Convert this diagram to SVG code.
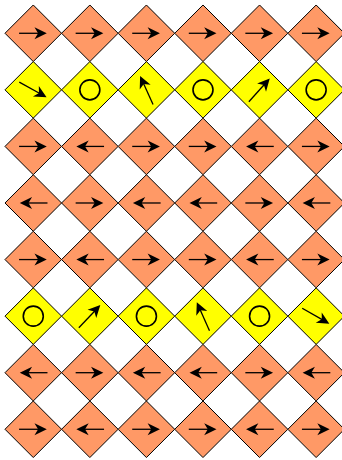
<svg xmlns="http://www.w3.org/2000/svg" width="342" height="460" viewBox="0 0 342 460">
<style>
.o{fill:#FF9966;stroke:#000;stroke-width:1}
.y{fill:#FFFF00;stroke:#000;stroke-width:1}
.c{fill:none;stroke:#000;stroke-width:1.6}
.ln{stroke:#000;stroke-width:1.3;fill:none}
</style>
<defs>
<polygon id="dia" points="0,-28.28 28.28,0 0,28.28 -28.28,0"/>
<g id="ah"><line class="ln" x1="-14.2" y1="0" x2="6" y2="0"/><path d="M13.5,0 L1.2,-6 L4.8,0 L1.2,6 Z" fill="#000"/></g>
<g id="ad"><line class="ln" x1="-16" y1="0" x2="7.5" y2="0"/><path d="M15.2,0 L3,-6 L6.5,0 L3,6 Z" fill="#000"/></g>
<circle id="ci" class="c" r="10"/>
</defs>
<g id="connectors"/>
<!-- Row 1 -->
<g id="n1-1" transform="translate(33.28,33.28)"><use href="#dia" class="o"/><use href="#ah"/></g>
<g id="n1-2" transform="translate(89.85,33.28)"><use href="#dia" class="o"/><use href="#ah"/></g>
<g id="n1-3" transform="translate(146.42,33.28)"><use href="#dia" class="o"/><use href="#ah"/></g>
<g id="n1-4" transform="translate(202.99,33.28)"><use href="#dia" class="o"/><use href="#ah"/></g>
<g id="n1-5" transform="translate(259.56,33.28)"><use href="#dia" class="o"/><use href="#ah"/></g>
<g id="n1-6" transform="translate(316.13,33.28)"><use href="#dia" class="o"/><use href="#ah"/></g>
<!-- Row 2 -->
<g id="n2-1" transform="translate(33.28,89.85)"><use href="#dia" class="y"/><use href="#ad" transform="rotate(29)"/></g>
<g id="n2-2" transform="translate(89.85,89.85)"><use href="#dia" class="y"/><use href="#ci"/></g>
<g id="n2-3" transform="translate(146.42,89.85)"><use href="#dia" class="y"/><use href="#ad" transform="rotate(-114.5)"/></g>
<g id="n2-4" transform="translate(202.99,89.85)"><use href="#dia" class="y"/><use href="#ci"/></g>
<g id="n2-5" transform="translate(259.56,89.85)"><use href="#dia" class="y"/><use href="#ad" transform="rotate(-48)"/></g>
<g id="n2-6" transform="translate(316.13,89.85)"><use href="#dia" class="y"/><use href="#ci"/></g>
<!-- Row 3 -->
<g id="n3-1" transform="translate(33.28,146.42)"><use href="#dia" class="o"/><use href="#ah"/></g>
<g id="n3-2" transform="translate(89.85,146.42)"><use href="#dia" class="o"/><use href="#ah" transform="rotate(180)"/></g>
<g id="n3-3" transform="translate(146.42,146.42)"><use href="#dia" class="o"/><use href="#ah"/></g>
<g id="n3-4" transform="translate(202.99,146.42)"><use href="#dia" class="o"/><use href="#ah"/></g>
<g id="n3-5" transform="translate(259.56,146.42)"><use href="#dia" class="o"/><use href="#ah" transform="rotate(180)"/></g>
<g id="n3-6" transform="translate(316.13,146.42)"><use href="#dia" class="o"/><use href="#ah"/></g>
<!-- Row 4 -->
<g id="n4-1" transform="translate(33.28,202.99)"><use href="#dia" class="o"/><use href="#ah" transform="rotate(180)"/></g>
<g id="n4-2" transform="translate(89.85,202.99)"><use href="#dia" class="o"/><use href="#ah"/></g>
<g id="n4-3" transform="translate(146.42,202.99)"><use href="#dia" class="o"/><use href="#ah" transform="rotate(180)"/></g>
<g id="n4-4" transform="translate(202.99,202.99)"><use href="#dia" class="o"/><use href="#ah" transform="rotate(180)"/></g>
<g id="n4-5" transform="translate(259.56,202.99)"><use href="#dia" class="o"/><use href="#ah"/></g>
<g id="n4-6" transform="translate(316.13,202.99)"><use href="#dia" class="o"/><use href="#ah" transform="rotate(180)"/></g>
<!-- Row 5 -->
<g id="n5-1" transform="translate(33.28,259.56)"><use href="#dia" class="o"/><use href="#ah"/></g>
<g id="n5-2" transform="translate(89.85,259.56)"><use href="#dia" class="o"/><use href="#ah" transform="rotate(180)"/></g>
<g id="n5-3" transform="translate(146.42,259.56)"><use href="#dia" class="o"/><use href="#ah"/></g>
<g id="n5-4" transform="translate(202.99,259.56)"><use href="#dia" class="o"/><use href="#ah"/></g>
<g id="n5-5" transform="translate(259.56,259.56)"><use href="#dia" class="o"/><use href="#ah" transform="rotate(180)"/></g>
<g id="n5-6" transform="translate(316.13,259.56)"><use href="#dia" class="o"/><use href="#ah"/></g>
<!-- Row 6 -->
<g id="n6-1" transform="translate(33.28,316.13)"><use href="#dia" class="y"/><use href="#ci"/></g>
<g id="n6-2" transform="translate(89.85,316.13)"><use href="#dia" class="y"/><use href="#ad" transform="rotate(-46.5)"/></g>
<g id="n6-3" transform="translate(146.42,316.13)"><use href="#dia" class="y"/><use href="#ci"/></g>
<g id="n6-4" transform="translate(202.99,316.13)"><use href="#dia" class="y"/><use href="#ad" transform="rotate(-114)"/></g>
<g id="n6-5" transform="translate(259.56,316.13)"><use href="#dia" class="y"/><use href="#ci"/></g>
<g id="n6-6" transform="translate(316.13,316.13)"><use href="#dia" class="y"/><use href="#ad" transform="rotate(29.7)"/></g>
<!-- Row 7 -->
<g id="n7-1" transform="translate(33.28,372.7)"><use href="#dia" class="o"/><use href="#ah" transform="rotate(180)"/></g>
<g id="n7-2" transform="translate(89.85,372.7)"><use href="#dia" class="o"/><use href="#ah"/></g>
<g id="n7-3" transform="translate(146.42,372.7)"><use href="#dia" class="o"/><use href="#ah" transform="rotate(180)"/></g>
<g id="n7-4" transform="translate(202.99,372.7)"><use href="#dia" class="o"/><use href="#ah" transform="rotate(180)"/></g>
<g id="n7-5" transform="translate(259.56,372.7)"><use href="#dia" class="o"/><use href="#ah"/></g>
<g id="n7-6" transform="translate(316.13,372.7)"><use href="#dia" class="o"/><use href="#ah" transform="rotate(180)"/></g>
<!-- Row 8 -->
<g id="n8-1" transform="translate(33.28,429.27)"><use href="#dia" class="o"/><use href="#ah"/></g>
<g id="n8-2" transform="translate(89.85,429.27)"><use href="#dia" class="o"/><use href="#ah" transform="rotate(180)"/></g>
<g id="n8-3" transform="translate(146.42,429.27)"><use href="#dia" class="o"/><use href="#ah"/></g>
<g id="n8-4" transform="translate(202.99,429.27)"><use href="#dia" class="o"/><use href="#ah"/></g>
<g id="n8-5" transform="translate(259.56,429.27)"><use href="#dia" class="o"/><use href="#ah" transform="rotate(180)"/></g>
<g id="n8-6" transform="translate(316.13,429.27)"><use href="#dia" class="o"/><use href="#ah"/></g>
</svg>
